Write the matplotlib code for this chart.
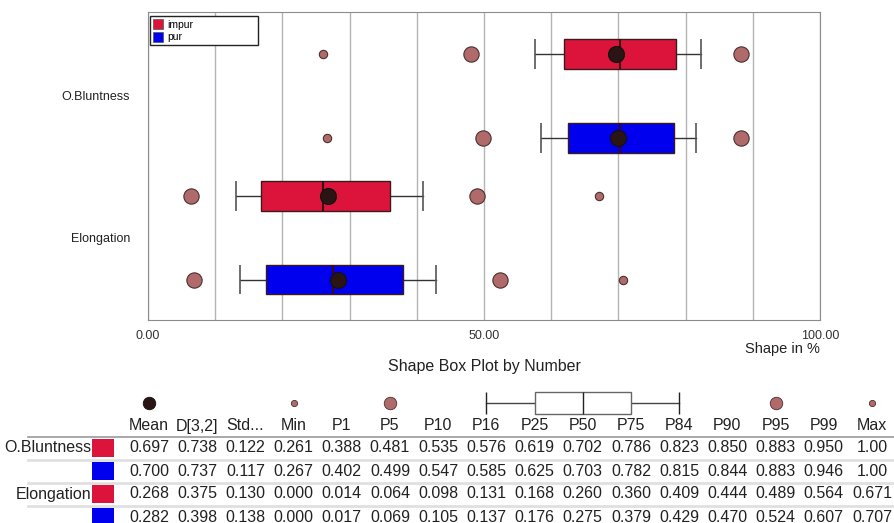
import matplotlib
matplotlib.use('Agg')
import matplotlib.pyplot as plt
from matplotlib.patches import Patch, Rectangle

plt.rcParams['font.family'] = ['Liberation Sans', 'DejaVu Sans']

# data
params = ['O.Bluntness', 'Elongation']
series = ['impur', 'pur']
series_colors = ['#dc143c', '#0000ee']

columns = ['Mean', 'D[3,2]', 'Std...', 'Min', 'P1', 'P5', 'P10', 'P16',
           'P25', 'P50', 'P75', 'P84', 'P90', 'P95', 'P99', 'Max']

bluntness_impur = [0.697, 0.738, 0.122, 0.261, 0.388, 0.481, 0.535, 0.576,
                   0.619, 0.702, 0.786, 0.823, 0.850, 0.883, 0.950, 1.00]
bluntness_pur = [0.700, 0.737, 0.117, 0.267, 0.402, 0.499, 0.547, 0.585,
                 0.625, 0.703, 0.782, 0.815, 0.844, 0.883, 0.946, 1.00]
elongation_impur = [0.268, 0.375, 0.130, 0.000, 0.014, 0.064, 0.098, 0.131,
                    0.168, 0.260, 0.360, 0.409, 0.444, 0.489, 0.564, 0.671]
elongation_pur = [0.282, 0.398, 0.138, 0.000, 0.017, 0.069, 0.105, 0.137,
                  0.176, 0.275, 0.379, 0.429, 0.470, 0.524, 0.607, 0.707]

rows = [(0, 0, bluntness_impur), (0, 1, bluntness_pur),
        (1, 0, elongation_impur), (1, 1, elongation_pur)]

x_ticks = [0, 50, 100]
x_tick_labels = ['0.00', '50.00', '100.00']

W, H = 895, 523
fig = plt.figure(figsize=(W / 100, H / 100), dpi=100)


def box(l, t, r, b):
    return [l / W, 1 - b / H, (r - l) / W, (b - t) / H]


dot_face = '#b06a6a'
dot_edge = '#4a3030'
mean_face = '#2b1414'

# ---- box plot ----
ax = fig.add_axes(box(148, 12, 820, 320))
offset = 0.295
bh = 0.21
for g, s, vals in rows:
    y = g + (offset if s else -offset)
    c = {k: v * 100 for k, v in zip(columns, vals)}
    ax.plot([c['P16'], c['P84']], [y, y], color='#333333', lw=1, zorder=2)
    ax.vlines([c['P16'], c['P84']], y - bh / 2, y + bh / 2, color='#555555', lw=1.2, zorder=2)
    ax.barh(y, c['P75'] - c['P25'], left=c['P25'], height=bh,
            color=series_colors[s], edgecolor='#3a1a1a', lw=1, zorder=3)
    ax.vlines(c['P50'], y - bh / 2, y + bh / 2, color='#3a0a10', lw=1.5, zorder=4)
    for k in ['P5', 'P95']:
        if 0 < c[k] < 100:
            ax.plot(c[k], y, 'o', ms=11, mfc=dot_face, mec=dot_edge, mew=0.8, zorder=5)
    for k in ['Min', 'Max']:
        if 0 < c[k] < 100:
            ax.plot(c[k], y, 'o', ms=6, mfc=dot_face, mec=dot_edge, mew=0.8, zorder=5)
    ax.plot(c['Mean'], y, 'o', ms=11.5, mfc=mean_face, mec='#111111', mew=0.8, zorder=6)

ax.set_xlim(0, 100)
ax.set_ylim(1.58, -0.59)
ax.set_xticks(range(0, 101, 10))
ax.set_xticklabels([x_tick_labels[x_ticks.index(t)] if t in x_ticks else '' for t in range(0, 101, 10)])
ax.set_yticks([0, 1])
ax.set_yticklabels(params)
ax.tick_params(axis='x', length=0, pad=7, labelsize=9, labelcolor='#333333')
ax.tick_params(axis='y', length=0, pad=13, labelsize=9, labelcolor='#222222')
ax.xaxis.grid(True, color='#b4b4b4', lw=1)
ax.set_axisbelow(True)
for sp in ax.spines.values():
    sp.set_color('#8c8c8c')

handles = [Patch(facecolor=series_colors[i], edgecolor='#555555', lw=0.5, label=series[i])
           for i in range(2)]
leg = ax.legend(handles=handles, loc='upper left', bbox_to_anchor=(0.003, 0.883, 0.161, 0.104),
                mode='expand', borderaxespad=0, fontsize=7.5, fancybox=False, edgecolor='#222222',
                handlelength=0.9, handleheight=1.1, handletextpad=0.5, borderpad=0.3,
                labelspacing=0.2, framealpha=1)
leg.get_frame().set_linewidth(1)

fig.text(820 / W, 1 - 349 / H, 'Shape in %', ha='right', va='center', fontsize=10.5, color='#222222')
fig.text(484 / W, 1 - 366 / H, 'Shape Box Plot by Number', ha='center', va='center',
         fontsize=11.5, color='#222222')

# ---- statistics table ----
tax = fig.add_axes([0, 0, 1, 1])
tax.set_xlim(0, W)
tax.set_ylim(H, 0)
tax.axis('off')

col_x = [149 + 48.2 * i for i in range(len(columns))]
cx = dict(zip(columns, col_x))
icon_y = 403
head_y = 426
row_y = [448 + 23 * r for r in range(len(rows))]

tax.plot(cx['Mean'], icon_y, 'o', ms=9, mfc=mean_face, mec='#111111', mew=0.6)
for k, ms in [('Min', 4.5), ('P5', 9), ('P95', 9), ('Max', 4.5)]:
    tax.plot(cx[k], icon_y, 'o', ms=ms, mfc=dot_face, mec=dot_edge, mew=0.6)
tax.plot([cx['P16'], cx['P84']], [icon_y, icon_y], color='#444444', lw=1, zorder=1)
tax.vlines([cx['P16'], cx['P84']], 392, 414, color='#222222', lw=1)
tax.add_patch(Rectangle((cx['P25'], 392), cx['P75'] - cx['P25'], 22,
                        facecolor='white', edgecolor='#666666', lw=1, zorder=2))
tax.vlines(cx['P50'], 392, 414, color='#222222', lw=1, zorder=3)

for k, x in cx.items():
    tax.text(x, head_y, k, ha='center', va='center', fontsize=11.5, color='#222222')
tax.plot([28, W], [437, 437], color='#9a9a9a', lw=1.2)

for r, (g, s, vals) in enumerate(rows):
    y = row_y[r]
    if s == 0:
        tax.text(91, y, params[g], ha='right', va='center', fontsize=11.5, color='#222222')
    tax.add_patch(Rectangle((92, y - 9), 22, 18, facecolor=series_colors[s],
                            edgecolor='none', zorder=3))
    for x, v in zip(col_x, vals):
        txt = '%.2f' % v if v >= 1 else '%.3f' % v
        tax.text(x, y, txt, ha='center', va='center', fontsize=11.5, color='#222222')
    if r < len(rows) - 1:
        tax.plot([28, W], [y + 11.5, y + 11.5], color='#e0e0e0', lw=2)

fig.savefig('out.png', dpi=100)
